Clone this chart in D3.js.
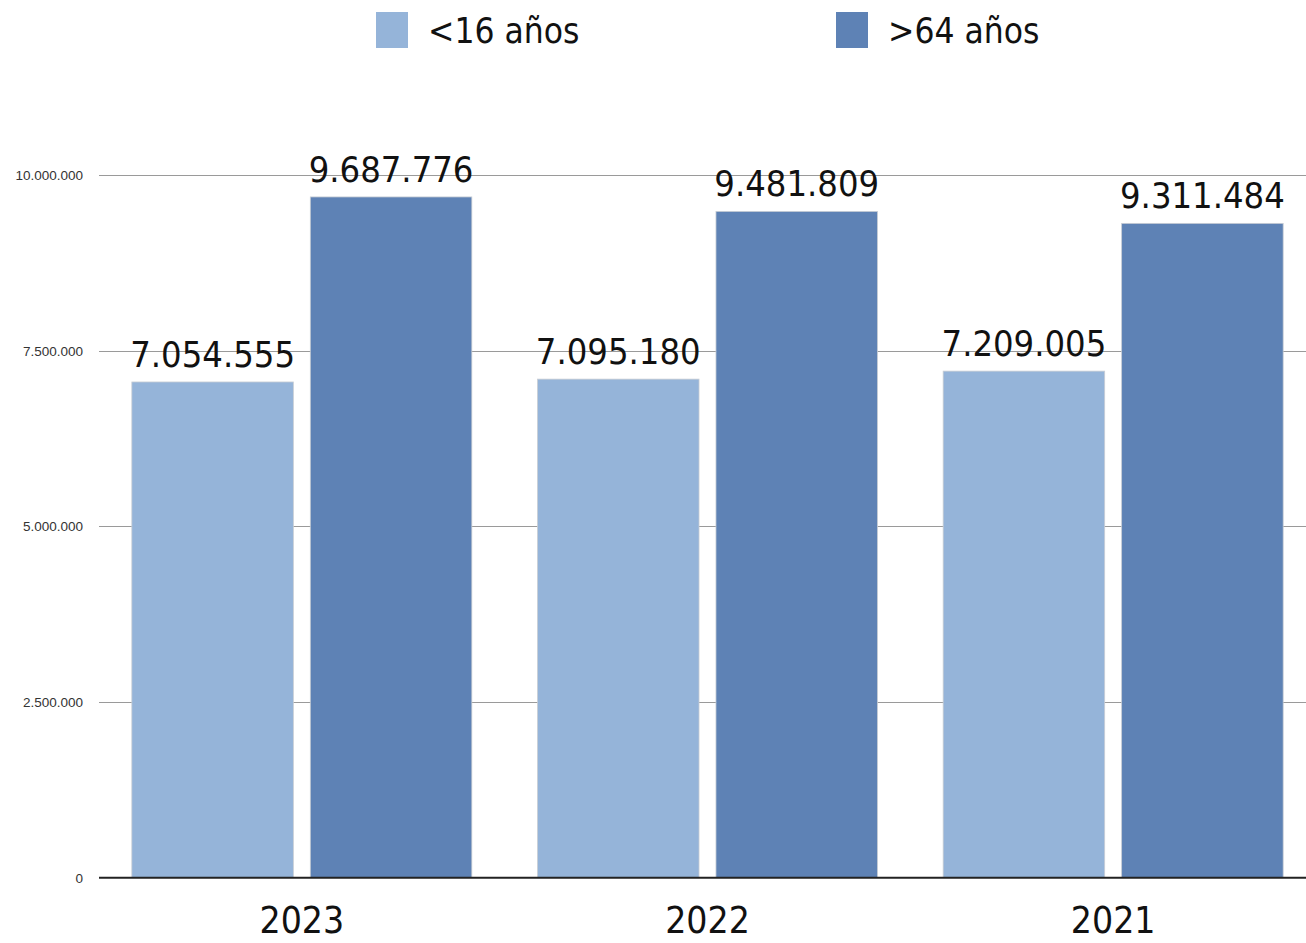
<!DOCTYPE html>
<html>
<head>
<meta charset="utf-8">
<script src="https://cdn.jsdelivr.net/npm/d3@7"></script>
<style>
  html, body { margin: 0; padding: 0; background: #fff; }
  svg { display: block; }
</style>
</head>
<body>
<svg width="1306" height="943"></svg>
<script>
const years = ['2023', '2022', '2021'];
const seriesNames = ['<16 años', '>64 años'];
const under16 = [7054555, 7095180, 7209005];
const over64 = [9687776, 9481809, 9311484];
const yTicks = [0, 2500000, 5000000, 7500000, 10000000];
const colors = ['#95b4d9', '#5e82b5'];

const values = [under16, over64];
const fmt = d => d3.format(',')(d).replace(/,/g, '.');

function drawChart() {
  const svg = d3.select('svg');
  const margin = { left: 99, right: -10, top: 0, bottom: 65 };
  const width = +svg.attr('width');
  const height = +svg.attr('height');

  const y = d3.scaleLinear()
    .domain([0, 10000000])
    .range([height - margin.bottom - 0.3, 175]);

  const x0 = d3.scaleBand()
    .domain(years)
    .range([margin.left, width - margin.right])
    .padding(0);

  const x1 = d3.scaleBand()
    .domain(d3.range(seriesNames.length))
    .range([0, x0.bandwidth()])
    .paddingInner(0.095)
    .paddingOuter(0.184);

  // lineas de cuadricula
  svg.append('g')
    .selectAll('line')
    .data(yTicks.filter(d => d > 0))
    .join('line')
    .attr('x1', margin.left)
    .attr('x2', width)
    .attr('y1', d => Math.round(y(d)) + 0.5)
    .attr('y2', d => Math.round(y(d)) + 0.5)
    .attr('stroke', '#9a9a9a')
    .attr('stroke-width', 1);

  // eje y
  const yAxis = svg.append('g')
    .attr('transform', `translate(${margin.left},0)`)
    .call(d3.axisLeft(y).tickValues(yTicks).tickFormat(fmt).tickSize(0).tickPadding(16));
  yAxis.select('.domain').remove();
  yAxis.selectAll('text')
    .attr('font-family', 'Liberation Sans, Arial, sans-serif')
    .attr('font-size', 13.5)
    .attr('fill', '#333');

  // barras
  const groups = svg.append('g')
    .selectAll('g')
    .data(years)
    .join('g')
    .attr('transform', d => `translate(${x0(d)},0)`);

  groups.selectAll('rect')
    .data((d, i) => values.map((v, s) => ({ s, v: v[i] })))
    .join('rect')
    .attr('x', d => x1(d.s))
    .attr('y', d => y(d.v))
    .attr('width', x1.bandwidth())
    .attr('height', d => y(0) - y(d.v))
    .attr('fill', d => colors[d.s])
    .attr('stroke', '#c8cdd4')
    .attr('stroke-width', 0.8);

  groups.selectAll('text.val')
    .data((d, i) => values.map((v, s) => ({ s, v: v[i] })))
    .join('text')
    .attr('class', 'val')
    .attr('x', d => x1(d.s) + x1.bandwidth() / 2)
    .attr('y', d => y(d.v) - 15)
    .attr('text-anchor', 'middle')
    .attr('font-family', 'DejaVu Sans Condensed, DejaVu Sans, sans-serif')
    .attr('font-size', 36)
    .attr('fill', '#111')
    .text(d => fmt(d.v));

  // linea base
  svg.append('line')
    .attr('x1', margin.left)
    .attr('x2', width)
    .attr('y1', y(0))
    .attr('y2', y(0))
    .attr('stroke', '#222')
    .attr('stroke-width', 2);

  // eje x
  const xAxis = svg.append('g')
    .attr('transform', `translate(0,${y(0)})`)
    .call(d3.axisBottom(x0).tickSize(0).tickPadding(29));
  xAxis.select('.domain').remove();
  xAxis.selectAll('text')
    .attr('font-family', 'DejaVu Sans Condensed, DejaVu Sans, sans-serif')
    .attr('font-size', 37)
    .attr('fill', '#111');

  // leyenda
  const legendX = [376, 836];
  const legend = svg.append('g')
    .selectAll('g')
    .data(seriesNames)
    .join('g')
    .attr('transform', (d, i) => `translate(${legendX[i]},12)`);
  legend.append('rect')
    .attr('width', 32)
    .attr('height', 36)
    .attr('fill', (d, i) => colors[i]);
  legend.append('text')
    .attr('x', 52)
    .attr('y', 31)
    .attr('font-family', 'DejaVu Sans Condensed, DejaVu Sans, sans-serif')
    .attr('font-size', 35)
    .attr('fill', '#111')
    .text(d => d);
}

drawChart();
</script>
</body>
</html>
